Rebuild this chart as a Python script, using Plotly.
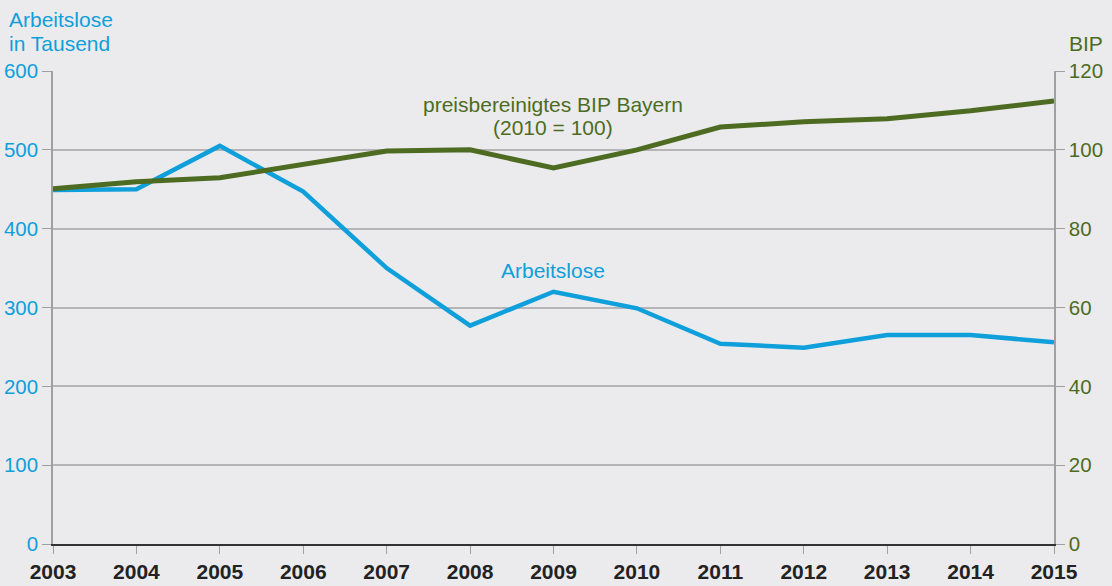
import plotly.graph_objects as go

years = list(range(2003, 2016))
arbeitslose = [449, 450, 505, 447, 350, 277, 320, 299, 254, 249, 265, 265, 256]
bip = [90.1, 91.9, 92.9, 96.4, 99.7, 100.0, 95.4, 100.0, 105.8, 107.1, 107.9, 109.9, 112.4]

BLUE = "#0f9fdb"
GREEN = "#4e6b22"
GRID = "#b5b5b7"
BG = "#ebebee"
FONT = "Liberation Sans, Arial, sans-serif"

L, R, T, B = 53, 1054, 71, 544
W, H = R - L, B - T


def px(x):
    return (x - L) / W


def py(y):
    return (B - y) / H


fig = go.Figure()
fig.add_trace(go.Scatter(x=years, y=arbeitslose, mode="lines",
                         line=dict(color=BLUE, width=4.5), yaxis="y", showlegend=False))
fig.add_trace(go.Scatter(x=years, y=bip, mode="lines",
                         line=dict(color=GREEN, width=5), yaxis="y2", showlegend=False))


def label(text, x, y, color, xanchor="center"):
    return dict(text=text, xref="paper", yref="paper", x=px(x), y=py(y),
                xanchor=xanchor, yanchor="middle", showarrow=False,
                font=dict(family=FONT, size=21, color=color))


fig.update_layout(
    width=1112, height=586,
    paper_bgcolor=BG, plot_bgcolor=BG,
    margin=dict(l=L, r=1112 - R, t=T, b=586 - B),
    font=dict(family=FONT, size=20.5),
    xaxis=dict(range=[2003, 2015], tickmode="array", tickvals=years,
               ticktext=[str(y) for y in years], automargin=False,
               showgrid=False, zeroline=False,
               showline=True, linecolor="#333333", linewidth=2,
               ticks="outside", ticklen=8, tickcolor="#a0a0a0", tickwidth=1,
               tickfont=dict(family=FONT, size=21, color="#222222", weight="bold")),
    yaxis=dict(range=[0, 600], dtick=100, showgrid=True, gridcolor=GRID, gridwidth=1.5,
               zeroline=False, showline=True, linecolor="#a0a0a0", linewidth=1.5,
               ticks="outside", ticklen=9, tickcolor="#a0a0a0", automargin=False,
               tickfont=dict(family=FONT, size=20.5, color=BLUE)),
    yaxis2=dict(range=[0, 120], dtick=20, overlaying="y", side="right",
                showgrid=False, zeroline=False, showline=True, linecolor="#a0a0a0", linewidth=1.5,
                ticks="outside", ticklen=9, tickcolor="#a0a0a0", automargin=False,
                tickfont=dict(family=FONT, size=20.5, color=GREEN)),
    annotations=[
        label("Arbeitslose", 7, 19, BLUE, "left"),
        label("in Tausend", 7, 43, BLUE, "left"),
        label("BIP", 1067, 43, GREEN, "left"),
        label("preisbereinigtes BIP Bayern", 553, 104, GREEN),
        label("(2010 = 100)", 553, 127, GREEN),
        label("Arbeitslose", 553, 270, BLUE),
    ],
)
fig.write_html("out.html", config={"displayModeBar": False},
               post_script="document.body.style.margin='0';")
